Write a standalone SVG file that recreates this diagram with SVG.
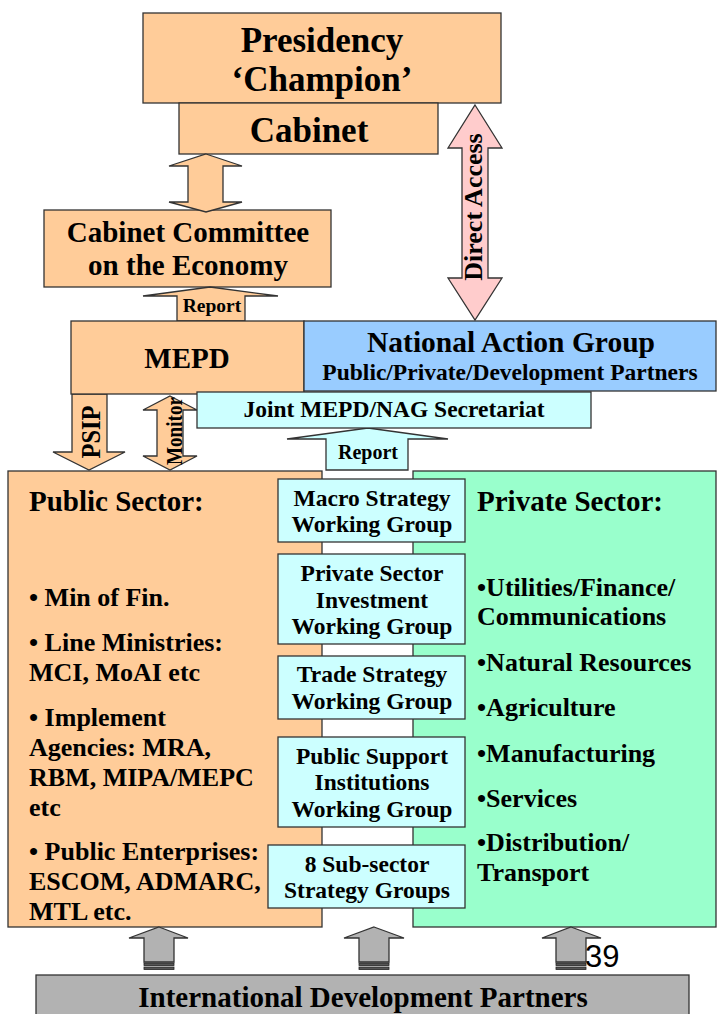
<svg xmlns="http://www.w3.org/2000/svg" width="717" height="1014" viewBox="0 0 717 1014">
  <style>
    .box { stroke: #333333; stroke-width: 1.3; }
    .orange { fill: #FFCC99; }
    .blue { fill: #99CCFF; }
    .cyan { fill: #CCFFFF; }
    .green { fill: #99FFCC; }
    .pink { fill: #FFCCCC; }
    .grey { fill: #B2B2B2; }
    .stripe { fill: #555555; stroke: #222222; stroke-width: 0.8; }
    text { font-family: "Liberation Serif", "Times New Roman", serif; font-weight: bold; fill: #000000; }
    .c { text-anchor: middle; }
  </style>

  <!-- Top of the hierarchy -->
  <g id="presidency">
    <rect class="box orange" x="143" y="13" width="358" height="90"/>
    <text class="c" x="322" y="52" font-size="35">Presidency</text>
    <text class="c" x="322" y="91" font-size="35">‘Champion’</text>
  </g>
  <g id="cabinet">
    <rect class="box orange" x="179" y="103" width="259" height="51"/>
    <text class="c" x="309" y="142" font-size="35">Cabinet</text>
  </g>
  <g id="cabinet-committee">
    <rect class="box orange" x="44" y="210" width="287" height="77"/>
    <text class="c" x="188" y="242" font-size="29">Cabinet Committee</text>
    <text class="c" x="188" y="275" font-size="29">on the Economy</text>
  </g>

  <!-- Lower sector panels (drawn before the working groups that sit on them) -->
  <g id="public-sector">
    <rect class="box orange" x="8" y="471" width="314" height="456"/>
    <text x="29" y="511" font-size="29">Public Sector:</text>
    <text x="29" y="606" font-size="26">• Min of Fin.</text>
    <text x="29" y="651" font-size="26">• Line Ministries:</text>
    <text x="29" y="681" font-size="26">MCI, MoAI etc</text>
    <text x="29" y="726" font-size="26">• Implement</text>
    <text x="29" y="756" font-size="26">Agencies: MRA,</text>
    <text x="29" y="786" font-size="26">RBM, MIPA/MEPC</text>
    <text x="29" y="816" font-size="26">etc</text>
    <text x="29" y="860" font-size="26">• Public Enterprises:</text>
    <text x="29" y="890" font-size="26">ESCOM, ADMARC,</text>
    <text x="29" y="920" font-size="26">MTL etc.</text>
  </g>
  <g id="private-sector">
    <rect class="box green" x="413" y="471" width="303" height="456"/>
    <text x="477" y="511" font-size="29">Private Sector:</text>
    <text x="477" y="596" font-size="26">•Utilities/Finance/</text>
    <text x="477" y="625" font-size="26">Communications</text>
    <text x="477" y="671" font-size="26">•Natural Resources</text>
    <text x="477" y="716" font-size="26">•Agriculture</text>
    <text x="477" y="762" font-size="26">•Manufacturing</text>
    <text x="477" y="807" font-size="26">•Services</text>
    <text x="477" y="851" font-size="26">•Distribution/</text>
    <text x="477" y="881" font-size="26">Transport</text>
  </g>

  <!-- Working groups -->
  <g id="wg-macro">
    <rect class="box cyan" x="278" y="479" width="187" height="63"/>
    <text class="c" x="372" y="506" font-size="23.5">Macro Strategy</text>
    <text class="c" x="372" y="532" font-size="23.5">Working Group</text>
  </g>
  <g id="wg-investment">
    <rect class="box cyan" x="278" y="554" width="187" height="90"/>
    <text class="c" x="372" y="581" font-size="23.5">Private Sector</text>
    <text class="c" x="372" y="608" font-size="23.5">Investment</text>
    <text class="c" x="372" y="634" font-size="23.5">Working Group</text>
  </g>
  <g id="wg-trade">
    <rect class="box cyan" x="278" y="656" width="187" height="63"/>
    <text class="c" x="372" y="682" font-size="23.5">Trade Strategy</text>
    <text class="c" x="372" y="709" font-size="23.5">Working Group</text>
  </g>
  <g id="wg-public-support">
    <rect class="box cyan" x="278" y="737" width="187" height="90"/>
    <text class="c" x="372" y="764" font-size="23.5">Public Support</text>
    <text class="c" x="372" y="790" font-size="23.5">Institutions</text>
    <text class="c" x="372" y="817" font-size="23.5">Working Group</text>
  </g>
  <g id="sub-sector-groups">
    <rect class="box cyan" x="268" y="845" width="197" height="63"/>
    <text class="c" x="367" y="872" font-size="23.5">8 Sub-sector</text>
    <text class="c" x="367" y="898" font-size="23.5">Strategy Groups</text>
  </g>

  <!-- Connectors: block arrows -->
  <g id="connectors">
    <polygon class="box orange" points="206,154 242,166 223,166 223,202 242,202 206,212 169,202 188,202 188,166 169,166"/>
    <polygon class="box orange" points="210,287 278,296 245,296 245,321 177,321 177,296 143,296"/>
    <text class="c" x="212" y="312" font-size="19.5">Report</text>

    <polygon class="box pink" points="475,105 502,148 488,148 488,278 502,278 475,320 448,278 462,278 462,148 448,148"/>
    <text class="c" x="482" y="207" font-size="26" transform="rotate(-90 482 207)">Direct Access</text>

    <polygon class="box orange" points="72,394 107,394 107,452 125,452 89,470 53,452 72,452"/>
    <text class="c" x="100" y="432" font-size="27" textLength="53" lengthAdjust="spacingAndGlyphs" transform="rotate(-90 100 432)">PSIP</text>

    <polygon class="box orange" points="170,396 197,410 183,410 183,456 197,456 170,470 143,456 157,456 157,410 143,410"/>
    <text class="c" x="182" y="431" font-size="24" textLength="68" lengthAdjust="spacingAndGlyphs" transform="rotate(-90 182 431)">Monitor</text>

    <polygon class="box cyan" points="368,428 448,439 408,439 408,470 326,470 326,439 287,439"/>
    <text class="c" x="368" y="459" font-size="20">Report</text>

    <!-- striped up-arrows from the development partners -->
    <polygon class="box grey" points="159,927 188,938 174,938 174,962 144,962 144,938 129,938"/>
    <rect class="stripe" x="144" y="963" width="30" height="2.5"/>
    <rect class="stripe" x="144" y="967" width="30" height="2.5"/>
    <polygon class="box grey" points="374,927 404,938 389,938 389,962 359,962 359,938 344,938"/>
    <rect class="stripe" x="359" y="963" width="30" height="2.5"/>
    <rect class="stripe" x="359" y="967" width="30" height="2.5"/>
    <polygon class="box grey" points="571,927 601,938 586,938 586,962 556,962 556,938 542,938"/>
    <rect class="stripe" x="556" y="963" width="30" height="2.5"/>
    <rect class="stripe" x="556" y="967" width="30" height="2.5"/>
  </g>

  <!-- Middle layer -->
  <g id="mepd">
    <rect class="box orange" x="71" y="321" width="233" height="73"/>
    <text class="c" x="187" y="368" font-size="29">MEPD</text>
  </g>
  <g id="national-action-group">
    <rect class="box blue" x="304" y="321" width="412" height="70"/>
    <text class="c" x="511" y="352" font-size="29.5">National Action Group</text>
    <text class="c" x="510" y="380" font-size="23.5">Public/Private/Development Partners</text>
  </g>
  <g id="joint-secretariat">
    <rect class="box cyan" x="197" y="392" width="394" height="36"/>
    <text class="c" x="394" y="417" font-size="23.5">Joint MEPD/NAG Secretariat</text>
  </g>

  <!-- Base -->
  <g id="development-partners">
    <rect class="box grey" x="36" y="975" width="653" height="45"/>
    <text class="c" x="363" y="1007" font-size="29">International Development Partners</text>
  </g>

  <text x="585" y="967" font-size="31" style="font-family: 'Liberation Sans', Arial, sans-serif; font-weight: normal;">39</text>
</svg>
